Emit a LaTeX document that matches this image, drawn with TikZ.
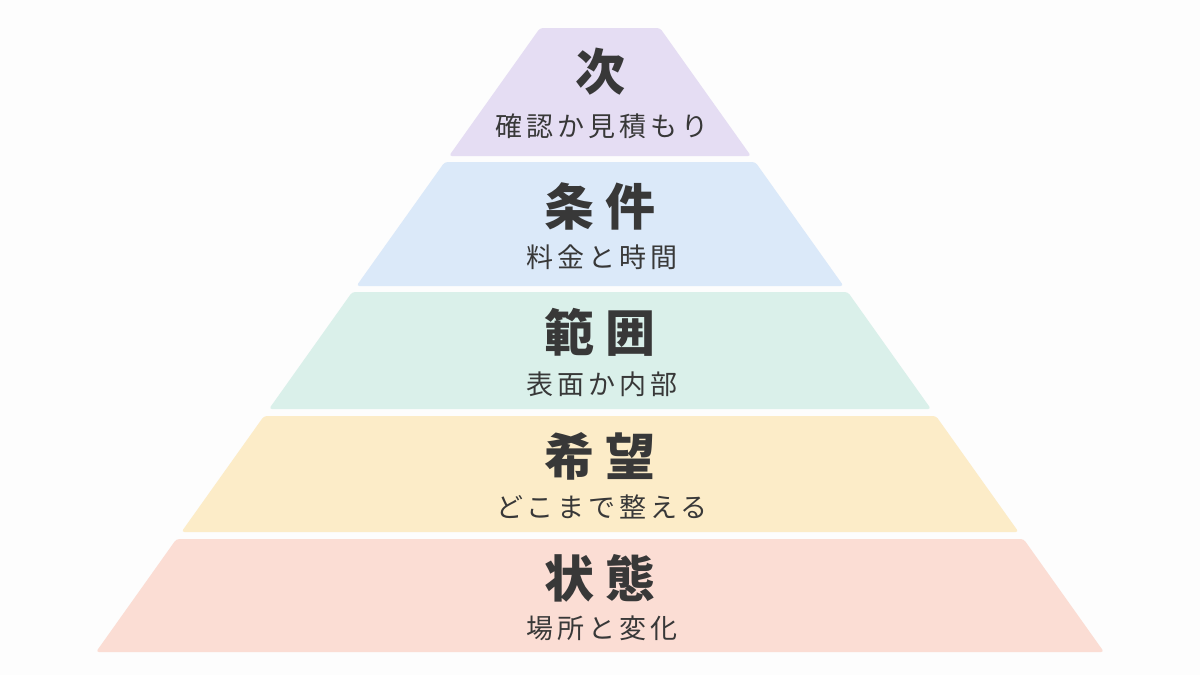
\documentclass[tikz,border=0pt]{standalone}
\usepackage{fontspec}
\newfontfamily\jptitle{Noto Sans CJK JP}
\newfontfamily\jpsub{Noto Sans CJK JP}[LetterSpace=15]
\definecolor{bg}{HTML}{FDFDFD}
\definecolor{ink}{HTML}{383838}
\definecolor{cP}{HTML}{E5DDF3}
\definecolor{cB}{HTML}{DBE9F9}
\definecolor{cG}{HTML}{DAF0EA}
\definecolor{cY}{HTML}{FCECC8}
\definecolor{cR}{HTML}{FBDDD4}
\tikzset{
  tier/.style={rounded corners=3pt},
  ttl/.style={inner sep=0pt, text=ink, font=\jptitle\bfseries\fontsize{50}{56}\selectfont},
  sub/.style={inner sep=0pt, text=ink, font=\jpsub\fontsize{27}{31}\selectfont}
}
\newcommand{\tsp}{\hspace{11pt}}
\newcommand{\subend}{\kern-0.15em}
\begin{document}
\begin{tikzpicture}[x=1pt,y=-1pt]
\fill[bg] (0,0) rectangle (1200,675);
\useasboundingbox (0,0) rectangle (1200,675);
% tiers
\fill[cP,tier] (540,28) -- (660,28) -- (751,156) -- (449,156) -- cycle;
\fill[cB,tier] (444.7,162) -- (755.3,162) -- (843.6,286) -- (356.4,286) -- cycle;
\fill[cG,tier] (352.2,292) -- (847.8,292) -- (931,409) -- (269,409) -- cycle;
\fill[cY,tier] (264,416) -- (936,416) -- (1018.6,532) -- (181.4,532) -- cycle;
\fill[cR,tier] (176.4,539) -- (1023.6,539) -- (1104,652) -- (96,652) -- cycle;
% labels
\node[ttl] (t1) at (600,72) {次};
\node[sub] (s1) at (600,126) {確認か見積もり\subend};
\node[ttl] (t2) at (600,206) {条\tsp 件};
\node[sub] (s2) at (600,257) {料金と時間\subend};
\node[ttl] (t3) at (600,332) {範\tsp 囲};
\node[sub] (s3) at (600,384) {表面か内部\subend};
\node[ttl] (t4) at (600,456) {希\tsp 望};
\node[sub] (s4) at (600,507) {どこまで整える\subend};
\node[ttl] (t5) at (600,578) {状\tsp 態};
\node[sub] (s5) at (600,628) {場所と変化\subend};
\end{tikzpicture}
\end{document}
